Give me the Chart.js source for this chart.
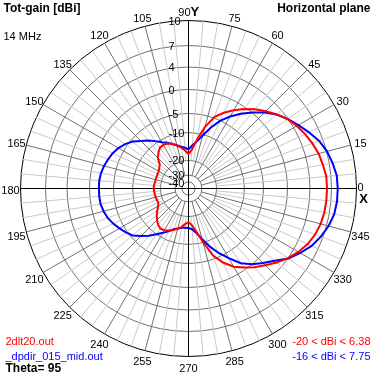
<!DOCTYPE html>
<html>
<head>
<meta charset="utf-8">
<script src="https://cdn.jsdelivr.net/npm/chart.js@4.4.0/dist/chart.umd.min.js"></script>
<style>
html, body { margin: 0; padding: 0; background: #fff; }
#wrap { width: 374px; height: 375px; }
</style>
</head>
<body>
<div id="wrap"><canvas id="pattern" width="374" height="375"></canvas></div>
<script>
// azimuth, degrees from X axis, counterclockwise
const azimuths = Array.from({ length: 72 }, (_, i) => i * 5);

// Tot-gain in dBi, one value per azimuth above
const gain2dlt20 = [
  6.38, 6.35, 6.1, 5.85, 5.45, 5.0, 4.5, 3.9, 2.9, 1.85, 0.8, -0.4,
  -1.8, -3.2, -4.7, -7.9, -12.1, -16.1, -17.7, -16.4, -15.2, -14.1, -13.0, -12.3,
  -12.0, -12.2, -13.3, -14.5, -16.6, -17.3, -17.7, -17.8, -17.9, -17.9, -17.8, -17.6,
  -17.6, -17.7, -17.8, -17.9, -18.0, -18.1, -17.5, -16.4, -15.2, -14.1, -13.1, -12.5,
  -12.8, -13.4, -14.2, -15.1, -16.1, -17.3, -18.0, -16.9, -14.6, -10.3, -6.0, -3.6,
  -1.8, -0.5, 0.7, 1.7, 2.9, 4.0, 4.75, 5.4, 5.85, 6.15, 6.3, 6.36
];
const gainDpdir = [
  7.75, 7.7, 7.4, 7.05, 6.45, 5.6, 4.75, 3.95, 2.85, 1.5, 0.05, -1.6,
  -3.3, -5.1, -7.7, -10.4, -12.9, -14.6, -16.0, -15.4, -14.8, -14.0, -13.1, -12.0,
  -10.9, -9.5, -8.2, -7.0, -5.5, -4.5, -3.75, -3.2, -2.8, -2.4, -2.1, -1.95,
  -1.95, -1.95, -2.0, -2.3, -2.7, -3.3, -4.0, -4.7, -5.5, -7.0, -8.5, -10.0,
  -11.7, -13.1, -14.5, -15.2, -15.8, -15.9, -15.9, -15.4, -13.9, -11.3, -8.5, -6.0,
  -3.85, -1.6, 0.0, 1.15, 2.4, 4.1, 5.05, 6.0, 6.7, 7.25, 7.6, 7.73
];

// log-like gain rings and where they sit (fraction of the outer radius)
const ringDbi = [10, 7, 4, 0, -5, -10, -20, -30, -40];
const ringFrac = [1, 0.851, 0.723, 0.589, 0.446, 0.333, 0.167, 0.080, 0.039];

const angleTicks = [0, 15, 30, 45, 60, 75, 90, 105, 120, 135, 150, 165,
  180, 195, 210, 225, 240, 255, 270, 285, 300, 315, 330, 345];

function toRadius(db) {
  if (db >= ringDbi[0]) return 1;
  for (let i = 1; i < ringDbi.length; i++) {
    if (db >= ringDbi[i]) {
      const t = (db - ringDbi[i]) / (ringDbi[i - 1] - ringDbi[i]);
      return ringFrac[i] + t * (ringFrac[i - 1] - ringFrac[i]);
    }
  }
  return Math.max(0, ringFrac[ringFrac.length - 1] * (db + 50) / 10);
}

// radar goes clockwise from the start angle, azimuth goes counterclockwise
function toChartOrder(arr) {
  return arr.map((_, i) => arr[(arr.length - i) % arr.length]);
}
const chartLabels = toChartOrder(azimuths);
const indexOfAz = az => ((360 - az) % 360) / 5;

const FONT = '"Liberation Sans", Arial, sans-serif';

// spokes: light every 5 deg from the -20 ring, grey every 15 deg from -30, black axes
const spokes = {
  id: 'spokes',
  beforeDatasetsDraw(chart) {
    const ctx = chart.ctx;
    const r = chart.scales.r;
    const outer = r.getDistanceFromCenterForValue(1);
    const passes = [
      [az => az % 15 !== 0, '#c8c8c8', toRadius(-20)],
      [az => az % 15 === 0 && az % 90 !== 0, '#707070', toRadius(-30)],
      [az => az % 90 === 0, '#000000', 0]
    ];
    ctx.save();
    ctx.lineWidth = 1;
    passes.forEach(([test, color, from]) => {
      ctx.strokeStyle = color;
      ctx.beginPath();
      chartLabels.forEach((az, i) => {
        if (!test(az)) return;
        const a = r.getPointPosition(i, r.getDistanceFromCenterForValue(from));
        const b = r.getPointPosition(i, outer);
        ctx.moveTo(a.x, a.y);
        ctx.lineTo(b.x, b.y);
      });
      ctx.stroke();
    });
    ctx.restore();
  }
};

const polarText = {
  id: 'polarText',
  beforeDraw(chart) {
    chart.ctx.save();
    chart.ctx.translate(0.5, 0.5);
  },
  afterDraw(chart) {
    const ctx = chart.ctx;
    const r = chart.scales.r;
    const cx = r.xCenter, cy = r.yCenter, R = r.drawingArea;

    ctx.textBaseline = 'middle';
    ctx.fillStyle = '#000';

    // azimuth labels
    ctx.font = '11px ' + FONT;
    angleTicks.forEach(az => {
      if (az === 0) {
        const p = r.getPointPosition(0, R + 4);
        ctx.textAlign = 'center';
        ctx.fillText('0', p.x, p.y - 1);
        ctx.font = 'bold 13px ' + FONT;
        ctx.fillText('X', p.x + 3, p.y + 11);
        ctx.font = '11px ' + FONT;
        return;
      }
      const p = r.getPointPosition(indexOfAz(az), R + 10);
      if (az === 90) {
        ctx.textAlign = 'right';
        ctx.fillText('90', cx + 2, p.y + 2);
        ctx.textAlign = 'left';
        ctx.font = 'bold 13px ' + FONT;
        ctx.fillText('Y', cx + 2, p.y + 2);
        ctx.font = '11px ' + FONT;
        return;
      }
      ctx.textAlign = 'center';
      ctx.fillText(String(az), p.x, p.y + 2);
    });

    // gain ring labels along the 90 deg axis
    ctx.textAlign = 'left';
    ringDbi.forEach((db, i) => {
      const y = cy - r.getDistanceFromCenterForValue(ringFrac[i]);
      ctx.fillText(String(db), cx - 20, db === -40 ? y + 2 : y + 1);
    });

    // titles
    ctx.font = 'bold 12px ' + FONT;
    ctx.fillText('Tot-gain [dBi]', 3, 8);
    ctx.textAlign = 'right';
    ctx.fillText('Horizontal plane', 370, 8);
    ctx.textAlign = 'left';
    ctx.font = '11px ' + FONT;
    ctx.fillText('14 MHz', 3, 36);

    // file legend
    ctx.fillStyle = '#ff0000';
    ctx.fillText('2dlt20.out', 5, 341);
    ctx.textAlign = 'right';
    ctx.fillText('-20 < dBi < 6.38', 370, 341);
    ctx.fillStyle = '#0000ff';
    ctx.fillText('-16 < dBi < 7.75', 370, 356);
    ctx.textAlign = 'left';
    ctx.fillText('_dpdir_015_mid.out', 5, 356);
    ctx.fillStyle = '#000';
    ctx.font = 'bold 12px ' + FONT;
    ctx.fillText('Theta= 95', 5, 368);

    ctx.restore();
  }
};

new Chart(document.getElementById('pattern'), {
  type: 'radar',
  data: {
    labels: chartLabels,
    datasets: [
      {
        label: '2dlt20.out',
        data: toChartOrder(gain2dlt20).map(toRadius),
        borderColor: '#ff0000',
        borderWidth: 2,
        fill: false,
        pointRadius: 0,
        tension: 0
      },
      {
        label: '_dpdir_015_mid.out',
        data: toChartOrder(gainDpdir).map(toRadius),
        borderColor: '#0000ff',
        borderWidth: 2,
        fill: false,
        pointRadius: 0,
        tension: 0
      }
    ]
  },
  options: {
    responsive: false,
    animation: false,
    layout: { padding: { left: 20, top: 20, right: 18, bottom: 19 } },
    plugins: { legend: { display: false }, tooltip: { enabled: false } },
    scales: {
      r: {
        min: 0,
        max: 1,
        startAngle: 90,
        afterBuildTicks: scale => {
          scale.ticks = [0, ...ringFrac.slice().reverse()].map(v => ({ value: v }));
        },
        ticks: { display: false },
        pointLabels: { display: false },
        grid: {
          circular: true,
          lineWidth: 1,
          color: ctx => (ctx.tick && ctx.tick.value === 1 ? '#000000' : '#707070')
        },
        angleLines: { display: false }
      }
    }
  },
  plugins: [spokes, polarText]
});
</script>
</body>
</html>
